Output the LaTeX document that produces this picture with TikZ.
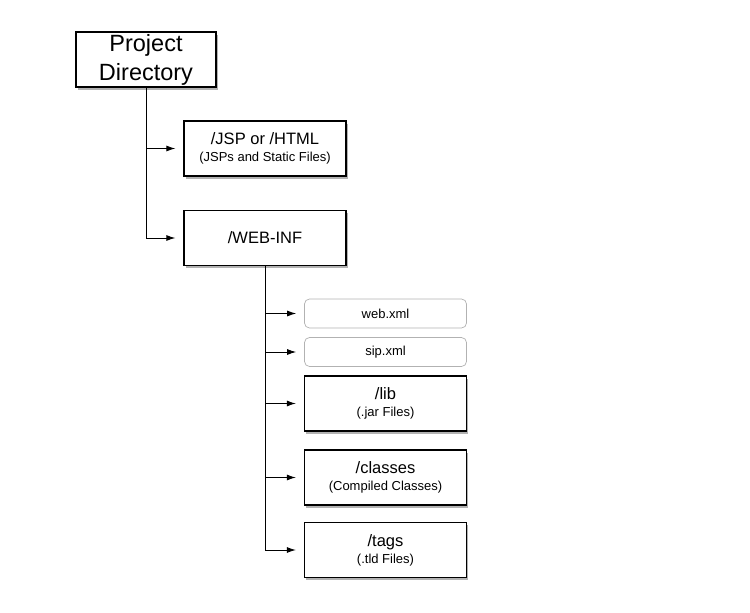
\documentclass[tikz,border=0pt]{standalone}
\usepackage{fontspec}
\setmainfont{Liberation Sans}
\usepackage{tikz}
\usetikzlibrary{
    arrows,
    arrows.meta,
    shadows,
    positioning
}

\tikzset{
    dirbox/.style={draw, line width=1.3pt, fill=white, minimum width=162pt, minimum height=55pt,
        align=center, inner sep=0pt, font=\fontsize{16.5}{17}\selectfont,
        drop shadow={shadow xshift=1.5pt, shadow yshift=-2.5pt, fill=black, opacity=0.3}},
    filebox/.style={draw=black!30, line width=0.7pt, rounded corners=5pt, fill=white,
        minimum width=162pt, minimum height=29pt, inner sep=0pt, font=\fontsize{13}{15}\selectfont},
    conn/.style={-{Latex[length=9pt, width=6pt]}, line width=0.9pt, shorten >=8pt}
}
\newcommand{\dirnote}[1]{{\fontsize{13}{17}\selectfont #1}}

\begin{document}
\begin{tikzpicture}[x=1pt, y=-1pt]
    \useasboundingbox (0, 0) rectangle (750, 613);
    % top level
    \node[dirbox, line width=2pt, minimum width=140pt, font=\fontsize{23.5}{29}\selectfont]
        (proj) at (146, 59.5) {Project\\Directory};
    \node[dirbox] (jsp) at (265, 148.5) {/JSP or /HTML\\\dirnote{(JSPs and Static Files)}};
    \node[dirbox] (webinf) at (265, 238) {/WEB-INF};
    % inside WEB-INF
    \node[filebox] (webxml) at (385.5, 313.5) {web.xml};
    \node[filebox] (sipxml) at (385.5, 352) {sip.xml};
    \node[dirbox] (lib) at (385.5, 403.5) {/lib\\\dirnote{(.jar Files)}};
    \node[dirbox] (classes) at (385.5, 477.5) {/classes\\\dirnote{(Compiled Classes)}};
    \node[dirbox] (tags) at (385.5, 550) {/tags\\\dirnote{(.tld Files)}};
    \draw[conn] (proj.south) |- (jsp.west);
    \draw[conn] (proj.south) |- (webinf.west);
    \foreach \n in {webxml, sipxml, lib, classes, tags}
        \draw[conn] (webinf.south) |- (\n.west);
\end{tikzpicture}
\end{document}
